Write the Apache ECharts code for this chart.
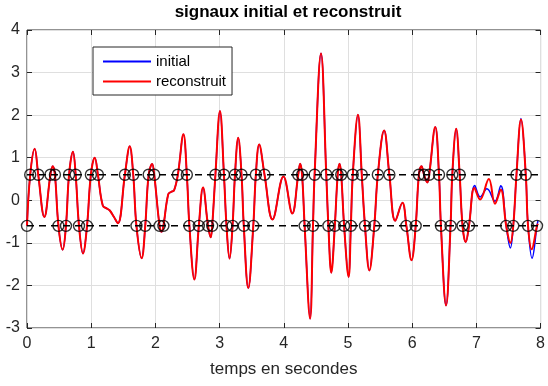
<!DOCTYPE html>
<html>
<head>
<meta charset="utf-8">
<script src="https://cdn.jsdelivr.net/npm/echarts@6.0.0/dist/echarts.min.js"></script>
<style>
html, body { margin: 0; padding: 0; background: #fff; }
#chart { width: 548px; height: 386px; }
</style>
</head>
<body>
<div id="chart"></div>
<script>
// extrema / shape points shared by both signals (time in s, value)
const shapeT = [0.12, 0.27, 0.40, 0.556, 0.716, 0.872, 1.056, 1.18, 1.25, 1.29, 1.35, 1.415,
	1.60, 1.786, 1.95, 2.098, 2.20, 2.25, 2.29, 2.437, 2.607, 2.742, 2.862, 3.006, 3.155,
	3.29, 3.447, 3.617, 3.825, 3.995, 4.132, 4.255, 4.41, 4.58, 4.74, 4.869, 5.01, 5.156,
	5.333, 5.563, 5.737, 5.848, 5.99, 6.146, 6.236, 6.36, 6.528, 6.686, 6.835];
const shapeV = [1.21, -0.39, 0.80, -1.16, 1.14, -1.25, 1.00, -0.12, -0.20, -0.24, -0.38, -0.54,
	1.27, -1.36, 0.85, -0.74, 0.14, 0.20, 0.23, 1.55, -1.86, 0.30, -0.87, 2.10, -1.37,
	1.47, -2.06, 1.31, -0.45, 0.56, -0.31, 0.86, -2.78, 3.45, -1.70, 0.86, -1.80, 2.01,
	-1.65, 1.64, -0.48, -0.06, -1.41, 0.80, 0.42, 1.72, -2.47, 1.68, -0.98];

// end of the signals, where they differ
const initialTailT = [6.975, 7.06, 7.165, 7.29, 7.38, 7.53, 7.695, 7.868, 7.96];
const initialTailV = [0.35, 0.08, 0.27, -0.02, 0.34, -1.12, 1.92, -1.36, -0.48];
const reconTailT = [6.97, 7.058, 7.195, 7.29, 7.38, 7.53, 7.695, 7.862, 7.96];
const reconTailV = [0.29, 0.02, 0.50, -0.08, 0.25, -1.00, 1.90, -1.15, -0.55];

// level crossing instants (circles)
const levels = [0.6, -0.6];
const upperCross = [0.05, 0.175, 0.365, 0.435, 0.655, 0.758, 0.995, 1.105, 1.525, 1.655, 1.895,
	1.982, 2.35, 2.49, 2.935, 3.068, 3.24, 3.342, 3.565, 3.70, 4.225, 4.285, 4.48, 4.662, 4.84,
	4.895, 5.075, 5.215, 5.465, 5.645, 6.105, 6.185, 6.265, 6.418, 6.625, 6.74, 7.625, 7.77];
const lowerCross = [0, 0.49, 0.607, 0.81, 0.935, 1.705, 1.842, 2.065, 2.125, 2.53, 2.677, 2.82,
	2.885, 3.108, 3.202, 3.377, 3.525, 4.325, 4.455, 4.695, 4.795, 4.94, 5.045, 5.265, 5.41,
	5.91, 6.055, 6.448, 6.598, 6.785, 6.885, 7.465, 7.575, 7.805, 7.945];

const xRange = [0, 8];
const yRange = [-3, 4];

function buildSignal(tailT, tailV) {
	const pts = [];
	shapeT.forEach((t, i) => pts.push([t, shapeV[i]]));
	tailT.forEach((t, i) => pts.push([t, tailV[i]]));
	upperCross.forEach((t) => pts.push([t, levels[0]]));
	lowerCross.forEach((t) => pts.push([t, levels[1]]));
	return pts.sort((a, b) => a[0] - b[0]);
}

const circles = upperCross.map((t) => [t, levels[0]]).concat(lowerCross.map((t) => [t, levels[1]]));

const font = "'Liberation Sans', Arial, sans-serif";
const ink = "#262626";

const chart = echarts.init(document.getElementById("chart"), null, { renderer: "canvas" });

const tick = { show: true, inside: true, length: 5, lineStyle: { color: ink } };
const hiddenAxis = {
	axisLine: { show: false, onZero: false },
	axisTick: tick,
	axisLabel: { show: false },
	splitLine: { show: false },
};

chart.setOption({
	animation: false,
	title: {
		text: "signaux initial et reconstruit",
		left: 288,
		textAlign: "center",
		top: 4,
		padding: 0,
		textStyle: { fontFamily: font, fontSize: 17, fontWeight: "bold", color: "#000" },
	},
	grid: {
		left: 27,
		right: 4,
		top: 30,
		bottom: 58,
		show: true,
		borderColor: ink,
		borderWidth: 1,
		backgroundColor: "#fff",
	},
	legend: {
		data: ["initial", "reconstruit"],
		orient: "vertical",
		left: 93,
		top: 47,
		padding: [6, 6, 5, 10],
		itemGap: 3,
		itemWidth: 48,
		itemHeight: 2,
		icon: "rect",
		backgroundColor: "#fff",
		borderColor: ink,
		borderWidth: 1,
		borderRadius: 0,
		textStyle: { fontFamily: font, fontSize: 15, color: "#000", lineHeight: 17 },
	},
	xAxis: [
		{
			type: "value",
			min: xRange[0],
			max: xRange[1],
			interval: 1,
			name: "temps en secondes",
			nameLocation: "middle",
			nameGap: 33,
			nameTextStyle: { fontFamily: font, fontSize: 17, color: ink },
			axisLine: { show: false, onZero: false },
			axisTick: tick,
			axisLabel: { fontFamily: font, fontSize: 16, color: ink, margin: 8 },
			splitLine: { show: true, lineStyle: { color: "#dfdfdf", width: 1 } },
		},
		Object.assign({ type: "value", min: xRange[0], max: xRange[1], interval: 1, position: "top" }, hiddenAxis),
	],
	yAxis: [
		{
			type: "value",
			min: yRange[0],
			max: yRange[1],
			interval: 1,
			axisLine: { show: false, onZero: false },
			axisTick: tick,
			axisLabel: { fontFamily: font, fontSize: 16, color: ink, margin: 7 },
			splitLine: { show: true, lineStyle: { color: "#dfdfdf", width: 1 } },
		},
		Object.assign({ type: "value", min: yRange[0], max: yRange[1], interval: 1, position: "right" }, hiddenAxis),
	],
	series: [
		{
			name: "initial",
			type: "line",
			data: buildSignal(initialTailT, initialTailV),
			smooth: 0.4,
			symbol: "none",
			color: "#0000ff",
			lineStyle: { width: 1.5 },
			z: 2,
		},
		{
			name: "reconstruit",
			type: "line",
			data: buildSignal(reconTailT, reconTailV),
			smooth: 0.4,
			symbol: "none",
			color: "#ff0000",
			lineStyle: { width: 2 },
			z: 3,
		},
		...levels.map((lv) => ({
			name: "level" + lv,
			type: "line",
			data: [[xRange[0], lv], [xRange[1], lv]],
			symbol: "none",
			silent: true,
			color: "#000",
			lineStyle: { width: 1.5, type: [7, 5] },
			z: 4,
		})),
		{
			name: "samples",
			type: "scatter",
			data: circles,
			symbol: "circle",
			symbolSize: 11,
			itemStyle: { color: "rgba(0,0,0,0)", borderColor: "#000", borderWidth: 1.4 },
			z: 5,
		},
	],
});
</script>
</body>
</html>
